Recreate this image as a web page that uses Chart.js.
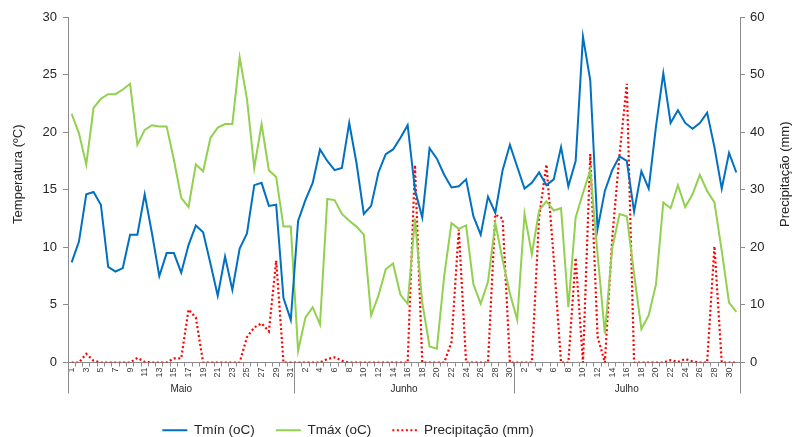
<!DOCTYPE html>
<html>
<head>
<meta charset="utf-8">
<script src="https://cdn.jsdelivr.net/npm/chart.js@4.4.1/dist/chart.umd.min.js"></script>
<style>
  html, body { margin: 0; padding: 0; background: #fff; }
</style>
</head>
<body>
<canvas id="chart" width="792" height="437"></canvas>
<script>
// Months shown under the axis
const months = ['Maio', 'Junho', 'Julho'];
const monthDays = [31, 30, 31];

// Axis titles
const leftTitle = 'Temperatura (ºC)';
const rightTitle = 'Precipitação (mm)';

// Daily minimum temperature (oC)
const tmin = [
  8.7, 10.5, 14.6, 14.8, 13.7, 8.3, 7.9, 8.2, 11.1, 11.1, 14.6, 11.2, 7.5, 9.5, 9.5, 7.8,
  10.2, 11.9, 11.3, 8.6, 5.8, 9.2, 6.3, 9.9, 11.2, 15.4, 15.6, 13.6, 13.7, 5.6, 3.7,
  12.3, 14.1, 15.6, 18.5, 17.5, 16.7, 16.9, 20.8, 17.3, 12.9, 13.6, 16.5, 18.1, 18.5, 19.5,
  20.6, 15.0, 12.6, 18.6, 17.7, 16.3, 15.2, 15.3, 15.9, 12.7, 11.1, 14.4, 13.0, 16.7, 18.9,
  17.0, 15.1, 15.6, 16.5, 15.4, 15.9, 18.7, 15.3, 17.5, 28.3, 24.5, 11.6, 14.9, 16.7, 17.9,
  17.5, 13.1, 16.6, 15.1, 20.5, 25.1, 20.8, 21.9, 20.8, 20.3, 20.8, 21.7, 18.7, 15.1, 18.2, 16.5
];

// Daily maximum temperature (oC)
const tmax = [
  21.6, 19.9, 17.2, 22.1, 22.9, 23.3, 23.3, 23.7, 24.2, 18.9, 20.2, 20.6, 20.5, 20.5, 17.6, 14.3,
  13.5, 17.2, 16.6, 19.5, 20.4, 20.7, 20.7, 26.5, 22.9, 16.9, 20.7, 16.7, 16.1, 11.8, 11.8,
  1.0, 3.9, 4.8, 3.3, 14.2, 14.1, 12.9, 12.3, 11.8, 11.1, 4.1, 5.8, 8.1, 8.6, 5.9,
  5.1, 12.5, 5.2, 1.4, 1.2, 7.5, 12.1, 11.6, 11.9, 6.8, 5.1, 7.0, 12.1, 8.9, 6.0,
  3.7, 12.9, 9.4, 13.2, 14.0, 13.2, 13.4, 4.8, 12.6, 14.7, 16.7, 9.4, 2.5, 9.9, 12.9,
  12.7, 7.7, 2.9, 4.1, 6.8, 13.9, 13.4, 15.4, 13.5, 14.6, 16.3, 14.9, 13.9, 9.7, 5.2, 4.4
];

// Daily rainfall (mm)
const precip = [
  0, 0, 1.5, 0.3, 0, 0, 0, 0, 0, 0.8, 0.1, 0, 0, 0, 0.7, 0.7,
  9.2, 7.8, 0, 0, 0, 0, 0, 0, 4.4, 6.1, 6.8, 5.4, 17.7, 0, 0,
  0, 0, 0, 0, 0.6, 0.9, 0.3, 0, 0, 0, 0, 0, 0, 0, 0,
  0, 34.3, 0, 0, 0, 0, 3.5, 23.1, 0, 0, 0, 0, 25.7, 25.0, 0,
  0, 0, 0, 25.3, 34.4, 18.0, 0, 0, 18.2, 0, 36.2, 4.5, 0, 21.5, 36.0,
  48.4, 0, 0, 0, 0, 0, 0.4, 0.1, 0.6, 0.2, 0, 0, 20.2, 0, 0, 0
];

// Day numbers for every point
const days = [];
monthDays.forEach(n => {
  for (let d = 1; d <= n; d++) days.push(String(d));
});

const axisColor = '#8c8c8c';
const textColor = '#262626';
const fontFamily = '"Liberation Sans", Arial, sans-serif';
Chart.defaults.font.family = fontFamily;

// Month names, separators and axis titles (both titles read bottom to top)
const extras = {
  id: 'extras',
  afterLayout(chart) {
    // the legend sits left of centre in the original
    chart.legend.left -= 48;
    chart.legend.right -= 48;
  },
  afterDraw(chart) {
    const { ctx, chartArea, scales: { x } } = chart;
    const half = (x.getPixelForValue(1) - x.getPixelForValue(0)) / 2;
    const bottom = chartArea.bottom;
    ctx.save();
    ctx.strokeStyle = axisColor;
    ctx.lineWidth = 1;
    ctx.fillStyle = textColor;
    ctx.font = '10px ' + fontFamily;
    ctx.textAlign = 'center';
    ctx.textBaseline = 'middle';
    const edges = [x.getPixelForValue(0) - half];
    let start = 0;
    months.forEach((m, i) => {
      const end = start + monthDays[i] - 1;
      const left = x.getPixelForValue(start) - half;
      const right = x.getPixelForValue(end) + half;
      edges.push(right);
      ctx.fillText(m, (left + right) / 2, bottom + 27);
      start = end + 1;
    });
    edges.forEach(px => {
      const p = Math.round(px) + 0.5;
      ctx.beginPath();
      ctx.moveTo(p, bottom);
      ctx.lineTo(p, bottom + 31);
      ctx.stroke();
    });

    ctx.font = '13px ' + fontFamily;
    const titleY = chartArea.top + (chartArea.bottom - chartArea.top) * 0.455;
    [[leftTitle, 18], [rightTitle, 785]].forEach(([text, tx]) => {
      ctx.save();
      ctx.translate(tx, titleY);
      ctx.rotate(-Math.PI / 2);
      ctx.fillText(text, 0, 0);
      ctx.restore();
    });
    ctx.restore();
  }
};

new Chart(document.getElementById('chart'), {
  type: 'line',
  data: {
    labels: days,
    datasets: [
      {
        label: 'Tmín (oC)',
        data: tmin,
        borderColor: '#0070c0',
        backgroundColor: '#0070c0',
        borderWidth: 2,
        yAxisID: 'y'
      },
      {
        label: 'Tmáx (oC)',
        data: tmax,
        borderColor: '#92d050',
        backgroundColor: '#92d050',
        borderWidth: 2,
        yAxisID: 'y'
      },
      {
        label: 'Precipitação (mm)',
        data: precip,
        borderColor: '#ff0000',
        backgroundColor: '#ff0000',
        borderWidth: 2.2,
        borderDash: [2, 2.5],
        yAxisID: 'y1'
      }
    ]
  },
  options: {
    responsive: false,
    animation: false,
    devicePixelRatio: 1,
    elements: {
      point: { radius: 0, hoverRadius: 0 },
      line: { tension: 0 }
    },
    layout: { padding: { top: 17, left: 0, right: 0, bottom: -10 } },
    plugins: {
      tooltip: { enabled: false },
      legend: {
        position: 'bottom',
        labels: {
          usePointStyle: true,
          pointStyle: 'line',
          pointStyleWidth: 25,
          padding: 21,
          color: textColor,
          font: { size: 13.5 },
          generateLabels(chart) {
            const items = Chart.defaults.plugins.legend.labels.generateLabels(chart);
            items.forEach(item => {
              const ds = chart.data.datasets[item.datasetIndex];
              item.lineDash = ds.borderDash || [];
              item.lineWidth = ds.borderWidth;
              item.strokeStyle = ds.borderColor;
            });
            return items;
          }
        }
      }
    },
    scales: {
      x: {
        offset: true,
        grid: { display: true, drawOnChartArea: false, offset: true, tickLength: 4, color: axisColor },
        border: { color: axisColor },
        ticks: {
          autoSkip: false,
          minRotation: 90,
          maxRotation: 90,
          padding: 1,
          color: '#404040',
          font: { size: 9 },
          callback: (v, i) => (i % 2 === 0 ? days[i] : '')
        },
        afterFit(scale) { scale.height = 40; }
      },
      y: {
        position: 'left',
        min: 0,
        max: 30,
        grid: { drawOnChartArea: false, tickLength: 5, color: axisColor },
        border: { color: axisColor },
        ticks: { stepSize: 5, padding: 6, color: textColor, font: { size: 13 } },
        afterFit(scale) { scale.width = 68; }
      },
      y1: {
        position: 'right',
        min: 0,
        max: 60,
        grid: { drawOnChartArea: false, tickLength: 5, color: axisColor },
        border: { color: axisColor },
        ticks: { stepSize: 10, padding: 5, color: textColor, font: { size: 13 } },
        afterFit(scale) { scale.width = 52; }
      }
    }
  },
  plugins: [extras]
});
</script>
</body>
</html>
